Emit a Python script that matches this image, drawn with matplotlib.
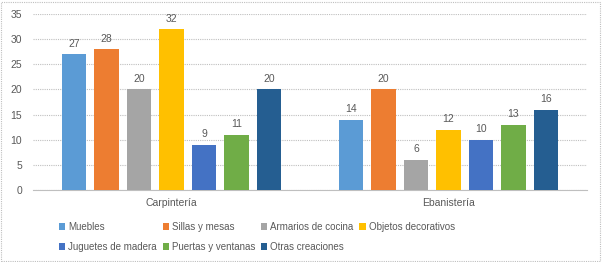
import matplotlib
matplotlib.use("Agg")
import matplotlib.pyplot as plt
from matplotlib.patches import Patch, Rectangle
import numpy as np

categories = ["Carpintería", "Ebanistería"]
series_names = ["Muebles", "Sillas y mesas", "Armarios de cocina", "Objetos decorativos",
                "Juguetes de madera", "Puertas y ventanas", "Otras creaciones"]
muebles = [27, 14]
sillas = [28, 20]
armarios = [20, 6]
objetos = [32, 12]
juguetes = [9, 10]
puertas = [11, 13]
otras = [20, 16]
values = [muebles, sillas, armarios, objetos, juguetes, puertas, otras]
colors = ["#5B9BD5", "#ED7D31", "#A5A5A5", "#FFC000", "#4472C4", "#70AD47", "#255E91"]

plt.rcParams['font.family'] = ['Liberation Sans', 'DejaVu Sans']
txt = "#595959"

fig = plt.figure(figsize=(6.02, 2.62), dpi=100)
ax = fig.add_axes([33/602, 1-190/262, (587-33)/602, (190-14)/262])

x = np.arange(len(categories))
step = 0.1173
width = 0.09
for i, (name, vals, c) in enumerate(zip(series_names, values, colors)):
    pos = x + (i - 3) * step
    bars = ax.bar(pos, vals, width=width, color=c, label=name, zorder=3)
    for p, v in zip(pos, vals):
        ax.annotate(str(v), (p, v), xytext=(0, 4), textcoords="offset points",
                    ha="center", va="bottom", fontsize=7.5, color=txt)

ax.set_xlim(-0.5, 1.5)
ax.set_ylim(0, 35)
ax.set_yticks(range(0, 36, 5))
ax.set_xticks(x)
ax.set_xticklabels(categories)
ax.tick_params(axis="both", length=0, labelsize=7.5, colors=txt)
ax.tick_params(axis="x", pad=6)
ax.tick_params(axis="y", pad=8)
ax.grid(axis="y", color="#BFBFBF", linestyle=(0, (1, 1)), linewidth=0.8, zorder=0)
for s in ["top", "right", "left"]:
    ax.spines[s].set_visible(False)
ax.spines["bottom"].set_color("#BFBFBF")
ax.spines["bottom"].set_linestyle((0, (1, 1)))

handles = [Patch(facecolor=c, label=n) for n, c in zip(series_names, colors)]
order = [0, 4, 1, 5, 2, 6, 3]
leg = fig.legend([handles[i] for i in order], [series_names[i] for i in order],
                 ncol=4, loc="center left", bbox_to_anchor=(59/602, 1 - 237/262),
                 frameon=False, fontsize=7.0, handlelength=0.65, handleheight=0.65,
                 handletextpad=0.3, columnspacing=0.6, labelspacing=1.05,
                 borderpad=0, borderaxespad=0)
for t in leg.get_texts():
    t.set_color(txt)

fig.patches.append(Rectangle((0.002, 0.004), 0.994, 0.99, transform=fig.transFigure,
                             fill=False, edgecolor="#BFBFBF", linestyle=(0, (1, 1)),
                             linewidth=0.8))

fig.savefig("out.png", dpi=100)
